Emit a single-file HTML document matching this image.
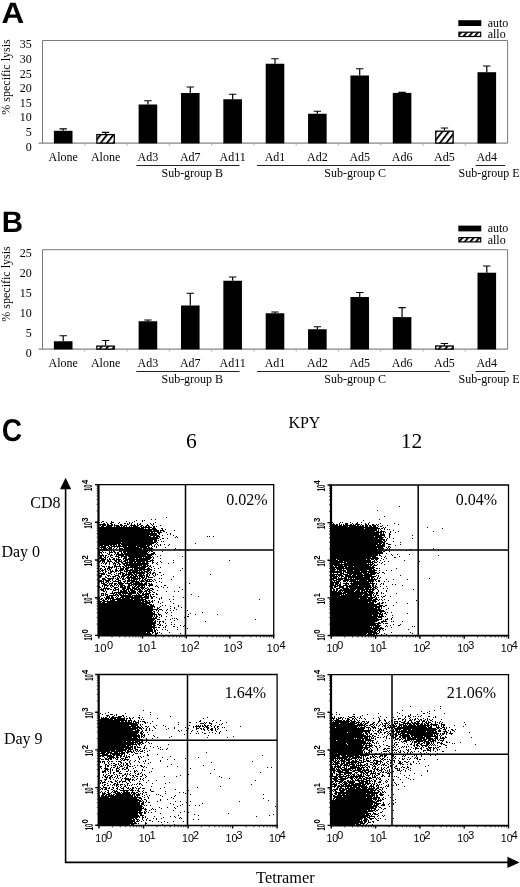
<!DOCTYPE html>
<html lang="en"><head><meta charset="utf-8"><title>Figure</title>
<style>html,body{margin:0;padding:0;background:#fff}svg{display:block}</style></head>
<body>
<svg width="520" height="887" viewBox="0 0 520 887">
<defs><pattern id="hat" width="6.4" height="40" patternUnits="userSpaceOnUse" patternTransform="skewX(-38)"><rect width="6.4" height="40" fill="#fff"/><rect x="0" width="2.3" height="40" fill="#000"/></pattern><pattern id="hat2" width="5.6" height="40" patternUnits="userSpaceOnUse" patternTransform="skewX(-40)"><rect width="5.6" height="40" fill="#fff"/><rect x="0" width="2.4" height="40" fill="#000"/></pattern><filter id="bl" x="0" y="0" width="520" height="887" filterUnits="userSpaceOnUse"><feGaussianBlur stdDeviation="0.38"/></filter></defs>
<rect width="520" height="887" fill="#fff"/>
<path d="M42.5 143.1V40.5H507.6V143.1" fill="none" stroke="#7a7a7a" stroke-width="1"/>
<path d="M38.5 143.1H507.6" fill="none" stroke="#666" stroke-width="1"/>
<path d="M84.78 143.1v2.5M127.06 143.1v2.5M169.35 143.1v2.5M211.63 143.1v2.5M253.91 143.1v2.5M296.19 143.1v2.5M338.47 143.1v2.5M380.75 143.1v2.5M423.04 143.1v2.5M465.32 143.1v2.5" stroke="#aaa" stroke-width="1" fill="none"/>
<path d="M63.2 130.8V128.8M59.5 128.8h7.4" stroke="#000" stroke-width="1.2" fill="none"/>
<rect x="53.9" y="130.8" width="18.6" height="12.6" fill="#000"/>
<path d="M105.56 134V132.3M101.86 132.3h7.4" stroke="#000" stroke-width="1.2" fill="none"/>
<rect x="96.86" y="134.6" width="17.4" height="8.5" fill="url(#hat)" stroke="#000" stroke-width="1.3"/>
<path d="M147.92 104.5V100.75M144.22 100.75h7.4" stroke="#000" stroke-width="1.2" fill="none"/>
<rect x="138.62" y="104.5" width="18.6" height="38.9" fill="#000"/>
<path d="M190.28 93V87M186.58 87h7.4" stroke="#000" stroke-width="1.2" fill="none"/>
<rect x="180.98" y="93" width="18.6" height="50.4" fill="#000"/>
<path d="M232.64 99.25V94.25M228.94 94.25h7.4" stroke="#000" stroke-width="1.2" fill="none"/>
<rect x="223.34" y="99.25" width="18.6" height="44.15" fill="#000"/>
<path d="M275 63.75V58.75M271.3 58.75h7.4" stroke="#000" stroke-width="1.2" fill="none"/>
<rect x="265.7" y="63.75" width="18.6" height="79.65" fill="#000"/>
<path d="M317.36 113.75V111.25M313.66 111.25h7.4" stroke="#000" stroke-width="1.2" fill="none"/>
<rect x="308.06" y="113.75" width="18.6" height="29.65" fill="#000"/>
<path d="M359.72 75.5V68.75M356.02 68.75h7.4" stroke="#000" stroke-width="1.2" fill="none"/>
<rect x="350.42" y="75.5" width="18.6" height="67.9" fill="#000"/>
<path d="M402.08 92.9V92.3M398.38 92.3h7.4" stroke="#000" stroke-width="1.2" fill="none"/>
<rect x="392.78" y="92.9" width="18.6" height="50.5" fill="#000"/>
<path d="M444.44 130.6V128M440.74 128h7.4" stroke="#000" stroke-width="1.2" fill="none"/>
<rect x="435.74" y="131.2" width="17.4" height="11.9" fill="url(#hat)" stroke="#000" stroke-width="1.3"/>
<path d="M486.8 72.2V66M483.1 66h7.4" stroke="#000" stroke-width="1.2" fill="none"/>
<rect x="477.5" y="72.2" width="18.6" height="71.2" fill="#000"/>
<text x="31.8" y="48.3" text-anchor="end" font-family='"Liberation Serif", serif' font-size="12">35</text>
<text x="31.8" y="63" text-anchor="end" font-family='"Liberation Serif", serif' font-size="12">30</text>
<text x="31.8" y="77.6" text-anchor="end" font-family='"Liberation Serif", serif' font-size="12">25</text>
<text x="31.8" y="92.2" text-anchor="end" font-family='"Liberation Serif", serif' font-size="12">20</text>
<text x="31.8" y="106.8" text-anchor="end" font-family='"Liberation Serif", serif' font-size="12">15</text>
<text x="31.8" y="121.4" text-anchor="end" font-family='"Liberation Serif", serif' font-size="12">10</text>
<text x="31.8" y="136" text-anchor="end" font-family='"Liberation Serif", serif' font-size="12">5</text>
<text x="31.8" y="150.8" text-anchor="end" font-family='"Liberation Serif", serif' font-size="12">0</text>
<text transform="translate(10.2 77) rotate(-90)" text-anchor="middle" font-family='"Liberation Serif", serif' font-size="12">% specific lysis</text>
<text x="63.2" y="160.5" text-anchor="middle" font-family='"Liberation Serif", serif' font-size="12">Alone</text>
<text x="105.56" y="160.5" text-anchor="middle" font-family='"Liberation Serif", serif' font-size="12">Alone</text>
<text x="147.92" y="160.5" text-anchor="middle" font-family='"Liberation Serif", serif' font-size="12">Ad3</text>
<text x="190.28" y="160.5" text-anchor="middle" font-family='"Liberation Serif", serif' font-size="12">Ad7</text>
<text x="232.64" y="160.5" text-anchor="middle" font-family='"Liberation Serif", serif' font-size="12">Ad11</text>
<text x="275" y="160.5" text-anchor="middle" font-family='"Liberation Serif", serif' font-size="12">Ad1</text>
<text x="317.36" y="160.5" text-anchor="middle" font-family='"Liberation Serif", serif' font-size="12">Ad2</text>
<text x="359.72" y="160.5" text-anchor="middle" font-family='"Liberation Serif", serif' font-size="12">Ad5</text>
<text x="402.08" y="160.5" text-anchor="middle" font-family='"Liberation Serif", serif' font-size="12">Ad6</text>
<text x="444.44" y="160.5" text-anchor="middle" font-family='"Liberation Serif", serif' font-size="12">Ad5</text>
<text x="486.8" y="160.5" text-anchor="middle" font-family='"Liberation Serif", serif' font-size="12">Ad4</text>
<path d="M136.3 165.5H239.5M257 165.5H450M475.6 165.5H505.2" stroke="#222" stroke-width="1" fill="none"/>
<text x="192.3" y="177.1" text-anchor="middle" font-family='"Liberation Serif", serif' font-size="12">Sub-group B</text>
<text x="355.2" y="177.1" text-anchor="middle" font-family='"Liberation Serif", serif' font-size="12">Sub-group C</text>
<text x="489" y="177.1" text-anchor="middle" font-family='"Liberation Serif", serif' font-size="12">Sub-group E</text>
<rect x="458.3" y="20.2" width="23" height="5.8" fill="#000"/>
<rect x="458.9" y="32.2" width="21.8" height="4.3" fill="url(#hat2)" stroke="#000" stroke-width="1.2"/>
<text x="487.7" y="26.8" font-family='"Liberation Serif", serif' font-size="12">auto</text>
<text x="487.7" y="38.4" font-family='"Liberation Serif", serif' font-size="12">allo</text>
<text transform="translate(1.57 23.15) scale(1.064 1.0)" text-rendering="geometricPrecision" font-family='"Liberation Sans", sans-serif' font-weight="700" font-size="29.5">A</text>
<path d="M42.5 349.1V249.7H507.6V349.1" fill="none" stroke="#7a7a7a" stroke-width="1"/>
<path d="M38.5 349.1H507.6" fill="none" stroke="#666" stroke-width="1"/>
<path d="M84.78 349.1v2.5M127.06 349.1v2.5M169.35 349.1v2.5M211.63 349.1v2.5M253.91 349.1v2.5M296.19 349.1v2.5M338.47 349.1v2.5M380.75 349.1v2.5M423.04 349.1v2.5M465.32 349.1v2.5" stroke="#aaa" stroke-width="1" fill="none"/>
<path d="M63.2 341.25V335.75M59.5 335.75h7.4" stroke="#000" stroke-width="1.2" fill="none"/>
<rect x="53.9" y="341.25" width="18.6" height="8.15" fill="#000"/>
<path d="M105.56 345.5V340.5M101.86 340.5h7.4" stroke="#000" stroke-width="1.2" fill="none"/>
<rect x="96.86" y="346.1" width="17.4" height="3" fill="url(#hat)" stroke="#000" stroke-width="1.3"/>
<path d="M147.92 321.25V320M144.22 320h7.4" stroke="#000" stroke-width="1.2" fill="none"/>
<rect x="138.62" y="321.25" width="18.6" height="28.15" fill="#000"/>
<path d="M190.28 305.5V293.25M186.58 293.25h7.4" stroke="#000" stroke-width="1.2" fill="none"/>
<rect x="180.98" y="305.5" width="18.6" height="43.9" fill="#000"/>
<path d="M232.64 280.75V277M228.94 277h7.4" stroke="#000" stroke-width="1.2" fill="none"/>
<rect x="223.34" y="280.75" width="18.6" height="68.65" fill="#000"/>
<path d="M275 313.25V312M271.3 312h7.4" stroke="#000" stroke-width="1.2" fill="none"/>
<rect x="265.7" y="313.25" width="18.6" height="36.15" fill="#000"/>
<path d="M317.36 329.25V326.75M313.66 326.75h7.4" stroke="#000" stroke-width="1.2" fill="none"/>
<rect x="308.06" y="329.25" width="18.6" height="20.15" fill="#000"/>
<path d="M359.72 297V292.5M356.02 292.5h7.4" stroke="#000" stroke-width="1.2" fill="none"/>
<rect x="350.42" y="297" width="18.6" height="52.4" fill="#000"/>
<path d="M402.08 317.1V307.7M398.38 307.7h7.4" stroke="#000" stroke-width="1.2" fill="none"/>
<rect x="392.78" y="317.1" width="18.6" height="32.3" fill="#000"/>
<path d="M444.44 345.4V343.5M440.74 343.5h7.4" stroke="#000" stroke-width="1.2" fill="none"/>
<rect x="435.74" y="346" width="17.4" height="3.1" fill="url(#hat)" stroke="#000" stroke-width="1.3"/>
<path d="M486.8 272.7V266M483.1 266h7.4" stroke="#000" stroke-width="1.2" fill="none"/>
<rect x="477.5" y="272.7" width="18.6" height="76.7" fill="#000"/>
<text x="31.8" y="256.9" text-anchor="end" font-family='"Liberation Serif", serif' font-size="12">25</text>
<text x="31.8" y="277" text-anchor="end" font-family='"Liberation Serif", serif' font-size="12">20</text>
<text x="31.8" y="297.1" text-anchor="end" font-family='"Liberation Serif", serif' font-size="12">15</text>
<text x="31.8" y="317.2" text-anchor="end" font-family='"Liberation Serif", serif' font-size="12">10</text>
<text x="31.8" y="337.3" text-anchor="end" font-family='"Liberation Serif", serif' font-size="12">5</text>
<text x="31.8" y="357" text-anchor="end" font-family='"Liberation Serif", serif' font-size="12">0</text>
<text transform="translate(10.2 284) rotate(-90)" text-anchor="middle" font-family='"Liberation Serif", serif' font-size="12">% specific lysis</text>
<text x="63.2" y="366.5" text-anchor="middle" font-family='"Liberation Serif", serif' font-size="12">Alone</text>
<text x="105.56" y="366.5" text-anchor="middle" font-family='"Liberation Serif", serif' font-size="12">Alone</text>
<text x="147.92" y="366.5" text-anchor="middle" font-family='"Liberation Serif", serif' font-size="12">Ad3</text>
<text x="190.28" y="366.5" text-anchor="middle" font-family='"Liberation Serif", serif' font-size="12">Ad7</text>
<text x="232.64" y="366.5" text-anchor="middle" font-family='"Liberation Serif", serif' font-size="12">Ad11</text>
<text x="275" y="366.5" text-anchor="middle" font-family='"Liberation Serif", serif' font-size="12">Ad1</text>
<text x="317.36" y="366.5" text-anchor="middle" font-family='"Liberation Serif", serif' font-size="12">Ad2</text>
<text x="359.72" y="366.5" text-anchor="middle" font-family='"Liberation Serif", serif' font-size="12">Ad5</text>
<text x="402.08" y="366.5" text-anchor="middle" font-family='"Liberation Serif", serif' font-size="12">Ad6</text>
<text x="444.44" y="366.5" text-anchor="middle" font-family='"Liberation Serif", serif' font-size="12">Ad5</text>
<text x="486.8" y="366.5" text-anchor="middle" font-family='"Liberation Serif", serif' font-size="12">Ad4</text>
<path d="M136.3 371.5H239.5M257 371.5H450M475.6 371.5H505.2" stroke="#222" stroke-width="1" fill="none"/>
<text x="192.3" y="383.1" text-anchor="middle" font-family='"Liberation Serif", serif' font-size="12">Sub-group B</text>
<text x="355.2" y="383.1" text-anchor="middle" font-family='"Liberation Serif", serif' font-size="12">Sub-group C</text>
<text x="489" y="383.1" text-anchor="middle" font-family='"Liberation Serif", serif' font-size="12">Sub-group E</text>
<rect x="458.3" y="225.6" width="23" height="5.8" fill="#000"/>
<rect x="458.9" y="237.6" width="21.8" height="4.3" fill="url(#hat2)" stroke="#000" stroke-width="1.2"/>
<text x="487.7" y="232.2" font-family='"Liberation Serif", serif' font-size="12">auto</text>
<text x="487.7" y="243.8" font-family='"Liberation Serif", serif' font-size="12">allo</text>
<text transform="translate(1.8 232) scale(1.0 1.0)" text-rendering="geometricPrecision" font-family='"Liberation Sans", sans-serif' font-weight="700" font-size="29.5">B</text>
<text transform="translate(1.86 440.8) scale(0.955 1.067)" text-rendering="geometricPrecision" font-family='"Liberation Sans", sans-serif' font-weight="700" font-size="29.5">C</text>
<text x="304.4" y="428.2" text-anchor="middle" font-family='"Liberation Serif", serif' font-size="16">KPY</text>
<text x="191.3" y="448.2" text-anchor="middle" font-family='"Liberation Serif", serif' font-size="21.5">6</text>
<text x="411.5" y="448.2" text-anchor="middle" font-family='"Liberation Serif", serif' font-size="21.5">12</text>
<text x="30.3" y="508.3" font-family='"Liberation Serif", serif' font-size="16">CD8</text>
<text x="1.4" y="557.4" font-family='"Liberation Serif", serif' font-size="16">Day 0</text>
<text x="3.9" y="744.1" font-family='"Liberation Serif", serif' font-size="16">Day 9</text>
<text x="256.1" y="883.3" font-family='"Liberation Serif", serif' font-size="16.3">Tetramer</text>
<path d="M65.6 487V862.4H509" fill="none" stroke="#000" stroke-width="1.6"/>
<path d="M65.6 477.8L71.2 489.2H60L65.6 477.8Z" fill="#000"/>
<path d="M519.6 862.4L507.4 856.8V868L519.6 862.4Z" fill="#000"/>
<g id="plot1">
<path transform="translate(0 0.5)" d="M166 517h1M151 519h1m3 0h1M136 520h1m5 0h1m1 0h1M102 521h2m7 0h1m14 0h1m7 0h1m7 0h1M99 522h1m1 0h1m4 0h1m4 0h3m5 0h1m9 0h1m2 0h1m22 0h1M103 523h2m2 0h1m2 0h2m6 0h1m5 0h2m1 0h1m1 0h1m1 0h1m5 0h1m2 0h1m9 0h1m2 0h1M99 524h7m1 0h2m2 0h2m1 0h1m5 0h2m5 0h2m2 0h1m2 0h1m2 0h1m1 0h2m6 0h1m3 0h1m1 0h1M100 525h1m1 0h4m1 0h6m1 0h5m1 0h3m1 0h3m3 0h6m1 0h2m2 0h2m3 0h3m3 0h1m7 0h1M101 526h3m2 0h6m2 0h1m1 0h4m1 0h1m1 0h2m1 0h1m2 0h1m1 0h1m1 0h5m2 0h2m1 0h1m1 0h2m1 0h2m3 0h2m1 0h1M99 527h41m1 0h11m1 0h2M99 528h45m1 0h1m2 0h2m2 0h4m5 0h2M99 529h58m5 0h1m2 0h1M99 530h53m1 0h6m1 0h4m10 0h1M99 531h60m1 0h1m2 0h2M99 532h51m1 0h2m1 0h1m2 0h5m4 0h1M99 533h58m1 0h2m10 0h1M99 534h58m2 0h1m7 0h1m2 0h1M99 535h50m1 0h9m3 0h1m10 0h1M99 536h52m2 0h2m1 0h4m16 0h1m30 0h1m1 0h1m3 0h1M99 537h59m1 0h1m15 0h1m1 0h1M99 538h60m3 0h2m3 0h1M99 539h58m3 0h1M99 540h54m1 0h3m1 0h1M99 541h54m1 0h3m4 0h1m1 0h1M99 542h22m1 0h34m1 0h1M99 543h55m2 0h1m38 0h1M99 544h18m1 0h2m1 0h31m3 0h1m1 0h1m2 0h1m3 0h1m4 0h1M99 545h4m1 0h5m1 0h2m1 0h2m1 0h1m1 0h3m1 0h24m1 0h3m1 0h1m2 0h1m3 0h1m1 0h1m7 0h1M99 546h1m1 0h5m2 0h2m1 0h16m1 0h8m1 0h12m3 0h1m1 0h1m1 0h1M100 547h6m1 0h1m1 0h3m2 0h1m2 0h1m1 0h1m3 0h16m1 0h7m1 0h2m1 0h1m4 0h1m8 0h1M101 548h1m1 0h4m1 0h4m1 0h1m2 0h1m2 0h4m1 0h18m1 0h10m22 0h1M100 549h1m1 0h6m1 0h1m1 0h1m3 0h1m3 0h2m1 0h20m1 0h3m1 0h1m1 0h3m1 0h1m20 0h1m5 0h1M100 550h3m1 0h5m2 0h1m1 0h1m5 0h1m1 0h2m1 0h28m36 0h1M99 551h1m2 0h1m6 0h1m1 0h1m1 0h2m4 0h3m1 0h25m1 0h1m1 0h2m9 0h1M99 552h3m1 0h1m1 0h1m3 0h4m1 0h2m1 0h2m2 0h1m1 0h3m1 0h20m1 0h1m4 0h2M99 553h1m1 0h1m5 0h1m1 0h1m5 0h1m1 0h2m2 0h2m1 0h24m3 0h4M99 554h1m2 0h1m5 0h2m1 0h1m2 0h1m1 0h38m1 0h1M99 555h5m1 0h2m3 0h3m3 0h1m1 0h6m1 0h21m1 0h5m8 0h1M100 556h2m1 0h1m1 0h1m2 0h1m1 0h1m4 0h4m2 0h6m1 0h23m1 0h1m4 0h1m24 0h1M99 557h3m2 0h2m1 0h1m3 0h2m5 0h2m1 0h1m2 0h3m2 0h13m1 0h1m1 0h7m1 0h1M99 558h5m1 0h1m3 0h1m3 0h2m1 0h1m1 0h1m4 0h4m1 0h7m1 0h2m1 0h12m2 0h1m6 0h1M101 559h5m1 0h1m1 0h2m1 0h3m1 0h5m2 0h1m1 0h25m2 0h1M100 560h5m2 0h2m1 0h1m3 0h3m1 0h2m1 0h1m2 0h4m1 0h6m1 0h12m2 0h4m19 0h1m55 0h1M99 561h2m1 0h3m2 0h5m3 0h2m1 0h4m1 0h3m1 0h1m1 0h16m1 0h5m1 0h1m7 0h1M99 562h1m2 0h1m1 0h1m1 0h1m2 0h1m2 0h1m1 0h1m1 0h3m2 0h2m2 0h8m1 0h2m1 0h4m1 0h3m1 0h2m4 0h2m3 0h1m3 0h1m11 0h1M101 563h1m1 0h1m1 0h2m2 0h1m3 0h3m2 0h2m2 0h6m1 0h20m3 0h1m3 0h1m11 0h1M105 564h1m3 0h1m3 0h1m1 0h1m1 0h1m1 0h2m2 0h2m1 0h22m9 0h1M101 565h1m12 0h2m3 0h1m4 0h18m1 0h3m1 0h2m1 0h1M99 566h1m2 0h3m1 0h1m1 0h2m2 0h1m1 0h7m1 0h2m1 0h2m1 0h1m1 0h8m1 0h1m1 0h7m1 0h2m2 0h1M104 567h1m3 0h5m1 0h1m1 0h1m3 0h1m2 0h2m1 0h20m2 0h1m2 0h1m8 0h1M100 568h2m3 0h1m1 0h3m1 0h1m4 0h1m1 0h1m1 0h4m1 0h4m3 0h1m1 0h11m2 0h3m4 0h1m3 0h1m23 0h1M100 569h1m1 0h1m1 0h2m1 0h1m1 0h2m4 0h2m3 0h4m1 0h3m2 0h3m1 0h4m1 0h13M99 570h1m1 0h3m1 0h1m2 0h1m1 0h1m1 0h1m2 0h3m1 0h4m1 0h1m1 0h16m1 0h2m2 0h3m1 0h1m2 0h1m25 0h1M100 571h1m1 0h1m2 0h2m3 0h4m1 0h2m1 0h1m1 0h1m3 0h4m1 0h2m1 0h6m1 0h1m1 0h2m1 0h5m1 0h1M103 572h1m1 0h1m2 0h1m1 0h2m2 0h1m5 0h3m3 0h1m1 0h17m1 0h2m1 0h2m2 0h2m4 0h2M99 573h6m3 0h3m5 0h1m1 0h3m1 0h3m1 0h1m1 0h4m1 0h2m1 0h9m2 0h2m1 0h1m1 0h2m1 0h1M101 574h4m1 0h1m4 0h1m2 0h1m3 0h1m1 0h1m1 0h2m1 0h8m1 0h3m2 0h3m1 0h1m2 0h2m1 0h1m2 0h1m2 0h1m1 0h1m5 0h1m46 0h1M99 575h3m5 0h3m5 0h4m3 0h5m1 0h2m1 0h3m1 0h2m1 0h7m1 0h2m1 0h1m3 0h1m1 0h1m5 0h1M99 576h3m3 0h1m2 0h1m1 0h1m1 0h4m2 0h2m1 0h4m2 0h2m1 0h2m1 0h5m1 0h4m1 0h1m1 0h3m5 0h1m18 0h1M99 577h2m4 0h2m6 0h1m3 0h1m1 0h1m1 0h1m1 0h1m2 0h10m1 0h1m1 0h1m1 0h4m1 0h1m1 0h5M102 578h3m2 0h7m1 0h1m1 0h2m1 0h1m1 0h2m1 0h1m1 0h3m1 0h10m1 0h2m1 0h2m12 0h1m1 0h1M102 579h4m2 0h3m1 0h1m3 0h3m3 0h3m3 0h2m1 0h1m1 0h5m1 0h1m2 0h1m1 0h2m1 0h5m2 0h1m16 0h1M99 580h3m1 0h1m1 0h5m2 0h1m2 0h1m2 0h3m4 0h1m1 0h8m1 0h1m2 0h1m1 0h3m1 0h3m1 0h1m2 0h1m2 0h1M99 581h5m2 0h3m1 0h1m2 0h6m1 0h1m2 0h3m1 0h3m1 0h8m1 0h5m1 0h6m1 0h1m5 0h1M99 582h1m1 0h1m1 0h1m1 0h2m1 0h1m3 0h1m5 0h4m2 0h1m2 0h1m2 0h4m1 0h5m1 0h1m3 0h2m9 0h1m4 0h1M101 583h4m2 0h1m1 0h4m1 0h3m1 0h6m1 0h7m1 0h10m1 0h3m1 0h2m1 0h1m37 0h1M103 584h4m2 0h1m1 0h1m2 0h2m1 0h1m1 0h4m5 0h2m1 0h16m2 0h4M102 585h1m1 0h5m1 0h3m1 0h1m1 0h1m1 0h1m1 0h5m3 0h4m1 0h1m1 0h2m1 0h7m1 0h1m1 0h5m3 0h1m7 0h2M99 586h1m2 0h1m1 0h1m2 0h1m2 0h1m1 0h2m4 0h1m1 0h3m1 0h2m1 0h3m2 0h1m1 0h2m1 0h3m1 0h2m1 0h1m4 0h1m5 0h1m1 0h1m3 0h1M99 587h2m3 0h1m1 0h1m4 0h1m2 0h4m2 0h6m1 0h3m2 0h3m1 0h3m1 0h5m2 0h1m10 0h1m4 0h1m3 0h1m11 0h1M101 588h1m1 0h7m4 0h2m2 0h1m3 0h4m1 0h4m1 0h5m1 0h2m1 0h3m1 0h2m1 0h1m1 0h3M100 589h4m1 0h1m1 0h2m1 0h2m1 0h1m1 0h4m3 0h3m1 0h3m1 0h3m1 0h7m1 0h1m1 0h1m2 0h3m2 0h2m28 0h1M101 590h3m1 0h1m7 0h3m2 0h1m1 0h2m1 0h4m1 0h1m1 0h5m2 0h1m1 0h3m3 0h3m1 0h3m5 0h1M103 591h2m1 0h1m5 0h1m5 0h1m1 0h7m1 0h2m1 0h5m2 0h5m1 0h3m1 0h2m2 0h1m13 0h1m7 0h1m3 0h1M106 592h1m5 0h1m1 0h14m1 0h7m1 0h1m1 0h3m1 0h1m2 0h1m2 0h2m2 0h2M101 593h3m1 0h1m4 0h5m1 0h1m1 0h3m1 0h14m1 0h2m1 0h1m1 0h2m1 0h5m6 0h1M101 594h1m1 0h1m1 0h3m5 0h1m1 0h3m1 0h3m1 0h1m1 0h1m2 0h4m4 0h1m1 0h2m2 0h7m1 0h1m1 0h2m2 0h2m33 0h1M101 595h3m1 0h1m1 0h1m1 0h7m1 0h2m1 0h11m1 0h12m1 0h2m1 0h1m1 0h1M100 596h1m5 0h4m1 0h2m3 0h1m1 0h1m2 0h12m1 0h8m2 0h5m1 0h2m1 0h2m18 0h1m24 0h1M99 597h1m4 0h1m1 0h4m1 0h3m1 0h1m1 0h1m2 0h4m1 0h24m2 0h2m3 0h1m4 0h1m21 0h1M99 598h1m1 0h2m2 0h9m2 0h5m1 0h8m1 0h9m1 0h2m2 0h4m2 0h2m6 0h1m1 0h1M100 599h2m1 0h1m1 0h2m1 0h1m1 0h1m1 0h21m1 0h12m13 0h1m9 0h1m3 0h1m85 0h1M99 600h1m2 0h3m2 0h1m2 0h5m2 0h27m1 0h2m1 0h2m2 0h1m1 0h1M99 601h3m1 0h38m1 0h6m1 0h1m1 0h2m5 0h1m11 0h1M99 602h2m1 0h3m2 0h37m1 0h6m1 0h1m5 0h1m3 0h1M99 603h51m10 0h1m12 0h1M99 604h48m2 0h3m1 0h1M99 605h50m1 0h4m8 0h1m2 0h1m12 0h1M99 606h56m5 0h1m9 0h1m7 0h1M99 607h54m1 0h1m2 0h1m1 0h1m14 0h1m6 0h1M99 608h54m4 0h2m11 0h1m3 0h1M99 609h59m1 0h3m5 0h1m8 0h1M99 610h54m3 0h1m1 0h1m3 0h1m3 0h1m3 0h1m2 0h1m13 0h1M99 611h53m1 0h2m3 0h1M99 612h54m1 0h1m2 0h1m7 0h1m1 0h1m3 0h1m13 0h1m16 0h1M99 613h56m3 0h1m7 0h1m23 0h1M99 614h58m1 0h3m27 0h1m6 0h1m21 0h1M99 615h54m1 0h1m1 0h1m2 0h1m1 0h1m9 0h1M99 616h54m1 0h1m1 0h2m3 0h1m4 0h1m20 0h2M99 617h53m1 0h1m1 0h2m2 0h1m24 0h1M99 618h58m15 0h1m1 0h1m1 0h1M99 619h56m2 0h3m5 0h1m4 0h1m6 0h1m77 0h1M99 620h55m1 0h1m18 0h1M99 621h54m1 0h2m1 0h1m1 0h2m1 0h2m41 0h1M99 622h57m3 0h1m3 0h1m7 0h1M99 623h57m3 0h1m5 0h1M99 624h56m2 0h2m1 0h1m10 0h1m2 0h1M99 625h53m1 0h3m3 0h2m1 0h1m3 0h1m13 0h1m3 0h1M99 626h56m10 0h1m7 0h2m8 0h1M99 627h58m1 0h2m3 0h1m1 0h1m11 0h1M99 628h53m1 0h2m32 0h1M99 629h54m1 0h1m1 0h1m5 0h1m2 0h1m11 0h1M99 630h54m1 0h2m1 0h1m9 0h1M99 631h54m1 0h2M99 632h47m1 0h3m2 0h2m1 0h1m1 0h1m1 0h1m9 0h1M99 633h52m1 0h1m2 0h3m3 0h1m18 0h1M99 634h53m3 0h2" stroke="#000" stroke-width="1" fill="none" shape-rendering="crispEdges" filter="url(#bl)"/>
<path d="M98.8 484.6H273.7V635.4" fill="none" stroke="#000" stroke-width="1.3"/>
<path d="M98.5 484V635.4" fill="none" stroke="#000" stroke-width="2.2"/>
<path d="M97.4 635.6H274.3" fill="none" stroke="#000" stroke-width="1.7"/>
<path d="M185.5 484.6V635.4M98.8 550H273.7" fill="none" stroke="#000" stroke-width="1.5"/>
<path d="M98.8 635.4v3.2M98.8 635.4h-3.8M142.52 635.4v3.2M98.8 597.7h-3.8M186.25 635.4v3.2M98.8 560h-3.8M229.97 635.4v3.2M98.8 522.3h-3.8M273.7 635.4v3.2M98.8 484.6h-3.8" stroke="#000" stroke-width="1.4" fill="none"/>
<path d="M111.96 635.4v2M98.8 624.05h-2.2M119.66 635.4v2M98.8 617.41h-2.2M125.13 635.4v2M98.8 612.7h-2.2M129.36 635.4v2M98.8 609.05h-2.2M132.82 635.4v2M98.8 606.06h-2.2M135.75 635.4v2M98.8 603.54h-2.2M138.29 635.4v2M98.8 601.35h-2.2M140.52 635.4v2M98.8 599.43h-2.2M155.69 635.4v2M98.8 586.35h-2.2M163.39 635.4v2M98.8 579.71h-2.2M168.85 635.4v2M98.8 575h-2.2M173.09 635.4v2M98.8 571.35h-2.2M176.55 635.4v2M98.8 568.36h-2.2M179.48 635.4v2M98.8 565.84h-2.2M182.01 635.4v2M98.8 563.65h-2.2M184.25 635.4v2M98.8 561.73h-2.2M199.41 635.4v2M98.8 548.65h-2.2M207.11 635.4v2M98.8 542.01h-2.2M212.58 635.4v2M98.8 537.3h-2.2M216.81 635.4v2M98.8 533.65h-2.2M220.27 635.4v2M98.8 530.66h-2.2M223.2 635.4v2M98.8 528.14h-2.2M225.74 635.4v2M98.8 525.95h-2.2M227.97 635.4v2M98.8 524.03h-2.2M243.14 635.4v2M98.8 510.95h-2.2M250.84 635.4v2M98.8 504.31h-2.2M256.3 635.4v2M98.8 499.6h-2.2M260.54 635.4v2M98.8 495.95h-2.2M264 635.4v2M98.8 492.96h-2.2M266.93 635.4v2M98.8 490.44h-2.2M269.46 635.4v2M98.8 488.25h-2.2M271.7 635.4v2M98.8 486.33h-2.2" stroke="#000" stroke-width="0.8" fill="none"/>
<text x="94" y="652.4" font-family='"Liberation Sans", sans-serif' font-size="11.6" textLength="12.6" lengthAdjust="spacingAndGlyphs">10</text>
<text x="107" y="649.2" font-family='"Liberation Sans", sans-serif' font-size="11" >0</text>
<text x="137.4" y="652.4" font-family='"Liberation Sans", sans-serif' font-size="11.6" textLength="12.6" lengthAdjust="spacingAndGlyphs">10</text>
<text x="150.4" y="649.2" font-family='"Liberation Sans", sans-serif' font-size="11" >1</text>
<text x="180.6" y="652.4" font-family='"Liberation Sans", sans-serif' font-size="11.6" textLength="12.6" lengthAdjust="spacingAndGlyphs">10</text>
<text x="193.6" y="649.2" font-family='"Liberation Sans", sans-serif' font-size="11" >2</text>
<text x="223.6" y="652.4" font-family='"Liberation Sans", sans-serif' font-size="11.6" textLength="12.6" lengthAdjust="spacingAndGlyphs">10</text>
<text x="236.6" y="649.2" font-family='"Liberation Sans", sans-serif' font-size="11" >3</text>
<text x="266.6" y="652.4" font-family='"Liberation Sans", sans-serif' font-size="11.6" textLength="12.6" lengthAdjust="spacingAndGlyphs">10</text>
<text x="279.6" y="649.2" font-family='"Liberation Sans", sans-serif' font-size="11" >4</text>
<g transform="translate(92.4 640.4) rotate(-90)"><text x="0" y="0" transform="scale(0.56 1)" font-family='"Liberation Sans", sans-serif' font-weight="700" font-size="10.4">10</text><text x="7.6" y="-4.6" transform="scale(0.9 1)" font-family='"Liberation Sans", sans-serif' font-weight="700" font-size="8.6">0</text></g>
<g transform="translate(92.4 604) rotate(-90)"><text x="0" y="0" transform="scale(0.56 1)" font-family='"Liberation Sans", sans-serif' font-weight="700" font-size="10.4">10</text><text x="7.6" y="-4.6" transform="scale(0.9 1)" font-family='"Liberation Sans", sans-serif' font-weight="700" font-size="8.6">1</text></g>
<g transform="translate(92.4 566.3) rotate(-90)"><text x="0" y="0" transform="scale(0.56 1)" font-family='"Liberation Sans", sans-serif' font-weight="700" font-size="10.4">10</text><text x="7.6" y="-4.6" transform="scale(0.9 1)" font-family='"Liberation Sans", sans-serif' font-weight="700" font-size="8.6">2</text></g>
<g transform="translate(92.4 528.6) rotate(-90)"><text x="0" y="0" transform="scale(0.56 1)" font-family='"Liberation Sans", sans-serif' font-weight="700" font-size="10.4">10</text><text x="7.6" y="-4.6" transform="scale(0.9 1)" font-family='"Liberation Sans", sans-serif' font-weight="700" font-size="8.6">3</text></g>
<g transform="translate(92.4 490.9) rotate(-90)"><text x="0" y="0" transform="scale(0.56 1)" font-family='"Liberation Sans", sans-serif' font-weight="700" font-size="10.4">10</text><text x="7.6" y="-4.6" transform="scale(0.9 1)" font-family='"Liberation Sans", sans-serif' font-weight="700" font-size="8.6">4</text></g>
<text x="267.6" y="504.6" text-anchor="end" font-family='"Liberation Serif", serif' font-size="16">0.02%</text>
</g>
<g id="plot2">
<path transform="translate(0 0.5)" d="M399 506h1M377 510h1M384 516h1M379 519h1M363 520h1M332 522h1m7 0h1m1 0h1m7 0h1m6 0h1m3 0h1m7 0h1M333 523h1m5 0h1m5 0h3m4 0h1m3 0h2m7 0h1m2 0h1m11 0h1m13 0h1M332 524h3m1 0h2m1 0h1m1 0h1m1 0h1m1 0h3m2 0h2m1 0h1m1 0h5m1 0h1m3 0h2m1 0h1m3 0h2m2 0h1m1 0h1m19 0h1M332 525h6m1 0h3m1 0h13m1 0h2m1 0h1m1 0h2m1 0h3m1 0h2m1 0h4m1 0h1m4 0h1m4 0h1M332 526h16m1 0h15m1 0h3m1 0h3m1 0h3m2 0h1m1 0h2M332 527h46m5 0h1m1 0h1m41 0h1M332 528h32m1 0h15m1 0h2m1 0h1m57 0h1M332 529h45m1 0h1m1 0h1m3 0h1m2 0h1m1 0h1M332 530h45m1 0h1m2 0h1m11 0h1M332 531h43m1 0h3m1 0h5m5 0h1m7 0h1m34 0h1M332 532h50m1 0h1m1 0h1m4 0h1m4 0h1M332 533h47m1 0h2m1 0h1m5 0h1M332 534h47m1 0h5m4 0h2M332 535h53m4 0h1m22 0h1M332 536h42m1 0h7m2 0h1m4 0h1M332 537h52m1 0h1m3 0h1M332 538h46m1 0h4m4 0h1m5 0h1m18 0h1M332 539h53m1 0h1M332 540h50m1 0h2m1 0h1M332 541h51m1 0h2m7 0h1M332 542h53m15 0h1M332 543h46m1 0h3m1 0h2m1 0h2M332 544h49m1 0h3m3 0h3m9 0h1M332 545h44m1 0h8m10 0h1M332 546h53m3 0h2M332 547h51m3 0h1m1 0h1m1 0h1M332 548h45m1 0h6m3 0h1m1 0h1m43 0h1M332 549h49m1 0h1m3 0h1m2 0h1m20 0h1M332 550h46m1 0h4m2 0h2m19 0h1m4 0h1M332 551h50m1 0h2m4 0h1M332 552h51M332 553h51m3 0h1M332 554h46m1 0h1m11 0h1m5 0h1m11 0h1M332 555h46m1 0h2m11 0h1m45 0h1M332 556h44m5 0h1m3 0h1m13 0h1M332 557h39m1 0h6m6 0h1m9 0h2M332 558h47m2 0h1m4 0h1M332 559h4m1 0h29m1 0h3m1 0h3m1 0h3m5 0h1M332 560h6m1 0h32m3 0h1m1 0h1m3 0h1m23 0h1M332 561h11m1 0h27m1 0h3m2 0h1m6 0h1m3 0h1m30 0h1M332 562h14m1 0h26m1 0h3m2 0h1m2 0h1M332 563h8m1 0h1m2 0h23m1 0h1m1 0h1m1 0h2m7 0h1M332 564h41m1 0h1m2 0h1m6 0h1M332 565h1m1 0h9m1 0h25m1 0h2m1 0h4M332 566h2m1 0h2m1 0h9m1 0h5m1 0h17m1 0h2M332 567h12m1 0h30M332 568h3m1 0h38m2 0h2m1 0h1m16 0h1M332 569h4m1 0h5m1 0h1m2 0h26m1 0h2M332 570h3m2 0h1m1 0h7m1 0h6m1 0h13m2 0h8m2 0h1m6 0h1m4 0h1M332 571h10m1 0h3m1 0h13m1 0h14M332 572h10m1 0h1m1 0h22m1 0h9m2 0h1m2 0h2M333 573h1m3 0h1m2 0h4m3 0h15m1 0h6m1 0h6m1 0h2m5 0h1M332 574h10m1 0h5m1 0h3m1 0h10m1 0h11M332 575h3m1 0h1m1 0h5m2 0h6m1 0h4m1 0h15m4 0h1m1 0h1m21 0h1M332 576h6m1 0h1m1 0h3m1 0h18m1 0h12m2 0h1M333 577h4m1 0h1m2 0h1m2 0h3m1 0h22m1 0h3m3 0h1m2 0h1M332 578h5m1 0h9m1 0h1m1 0h2m1 0h1m1 0h15m1 0h2m1 0h1m2 0h1m1 0h1m49 0h1M332 579h2m2 0h7m1 0h33m9 0h1m6 0h1m13 0h1M333 580h4m1 0h3m2 0h6m1 0h6m1 0h1m1 0h8m1 0h6m1 0h1m2 0h2M332 581h1m1 0h1m1 0h4m3 0h3m1 0h1m1 0h25m2 0h1m1 0h2m4 0h1m3 0h1M332 582h7m1 0h1m5 0h1m4 0h1m1 0h16m1 0h1m1 0h1M332 583h2m1 0h4m1 0h1m2 0h6m1 0h25m1 0h1m4 0h1m1 0h1M332 584h2m1 0h3m1 0h2m4 0h2m1 0h1m2 0h19m2 0h2m2 0h1m3 0h1m2 0h1m8 0h1m2 0h1M332 585h4m1 0h4m2 0h5m1 0h9m1 0h12m1 0h2m1 0h1m26 0h1M332 586h1m1 0h4m1 0h5m2 0h25m1 0h2m1 0h2m3 0h1m5 0h1M332 587h1m1 0h2m3 0h5m2 0h2m1 0h23m1 0h3m1 0h1M332 588h2m2 0h4m2 0h7m1 0h14m1 0h4m1 0h1m1 0h2m1 0h2m6 0h1m3 0h1M333 589h2m1 0h2m2 0h2m1 0h13m1 0h18m2 0h1m35 0h1M333 590h2m1 0h2m1 0h16m1 0h4m1 0h4m1 0h2m1 0h2m1 0h2m4 0h1m7 0h1M332 591h5m1 0h3m1 0h1m1 0h10m1 0h5m1 0h2m1 0h9m5 0h1m7 0h1M332 592h10m1 0h24m1 0h6m2 0h2m3 0h1M332 593h14m1 0h21m1 0h4m1 0h1m1 0h2m3 0h1m1 0h1m12 0h1M332 594h10m1 0h1m1 0h18m1 0h8m1 0h1m2 0h1M332 595h8m1 0h21m1 0h9m1 0h1m1 0h1m1 0h2m6 0h1M332 596h36m2 0h2m2 0h2m5 0h1m1 0h2m5 0h1M332 597h43m1 0h1m1 0h1m3 0h1M332 598h27m1 0h7m1 0h5m2 0h2M332 599h40m1 0h5m1 0h1m1 0h1m2 0h1M332 600h44m2 0h1m3 0h1m5 0h1m27 0h1M332 601h39m1 0h5M332 602h36m1 0h5m1 0h1m3 0h1m2 0h2m1 0h1m10 0h1M332 603h42m3 0h3m1 0h2m24 0h1M332 604h48M332 605h45m2 0h4m2 0h2m6 0h1M332 606h50m1 0h2M332 607h42m1 0h5m1 0h1M332 608h45m1 0h2m1 0h1m6 0h1M332 609h49m5 0h1M332 610h52M332 611h46m1 0h6M332 612h47m1 0h2m3 0h1m1 0h1m3 0h1M332 613h49m1 0h1m1 0h2m21 0h1M332 614h46m1 0h4m3 0h1M332 615h40m1 0h5m1 0h1m1 0h2m9 0h1M332 616h52m1 0h1M332 617h45m1 0h4m10 0h1M332 618h46m3 0h1m5 0h1m3 0h1M332 619h50m3 0h3m3 0h1M332 620h47m4 0h1m1 0h1M332 621h45m4 0h6m4 0h1m1 0h1m8 0h1M332 622h43m3 0h2m1 0h2M332 623h49m2 0h1m1 0h3M332 624h44m1 0h2m14 0h1m6 0h1M332 625h49m5 0h1m3 0h1m7 0h2M332 626h38m1 0h1m1 0h1m1 0h5m5 0h1m1 0h1m24 0h1m1 0h1M332 627h40m1 0h6m1 0h2m9 0h1M332 628h52M332 629h39m1 0h6m1 0h2m1 0h1m2 0h1m22 0h1M332 630h41m1 0h3m1 0h2m3 0h1M332 631h44m1 0h1m1 0h1M332 632h45m2 0h1m11 0h1m18 0h1M332 633h35m1 0h4m1 0h6m5 0h1m27 0h1M332 634h34m1 0h8m1 0h1m4 0h1m4 0h1" stroke="#000" stroke-width="1" fill="none" shape-rendering="crispEdges" filter="url(#bl)"/>
<path d="M331.3 485H508.5V635.5" fill="none" stroke="#000" stroke-width="1.3"/>
<path d="M331 484.4V635.5" fill="none" stroke="#000" stroke-width="2.2"/>
<path d="M329.9 635.7H509.1" fill="none" stroke="#000" stroke-width="1.7"/>
<path d="M418.2 485V635.5M331.3 550H508.5" fill="none" stroke="#000" stroke-width="1.5"/>
<path d="M331.3 635.5v3.2M331.3 635.5h-3.8M375.6 635.5v3.2M331.3 597.88h-3.8M419.9 635.5v3.2M331.3 560.25h-3.8M464.2 635.5v3.2M331.3 522.62h-3.8M508.5 635.5v3.2M331.3 485h-3.8" stroke="#000" stroke-width="1.4" fill="none"/>
<path d="M344.64 635.5v2M331.3 624.17h-2.2M352.44 635.5v2M331.3 617.55h-2.2M357.97 635.5v2M331.3 612.85h-2.2M362.26 635.5v2M331.3 609.2h-2.2M365.77 635.5v2M331.3 606.22h-2.2M368.74 635.5v2M331.3 603.7h-2.2M371.31 635.5v2M331.3 601.52h-2.2M373.57 635.5v2M331.3 599.6h-2.2M388.94 635.5v2M331.3 586.55h-2.2M396.74 635.5v2M331.3 579.92h-2.2M402.27 635.5v2M331.3 575.22h-2.2M406.56 635.5v2M331.3 571.58h-2.2M410.07 635.5v2M331.3 568.6h-2.2M413.04 635.5v2M331.3 566.08h-2.2M415.61 635.5v2M331.3 563.9h-2.2M417.87 635.5v2M331.3 561.97h-2.2M433.24 635.5v2M331.3 548.92h-2.2M441.04 635.5v2M331.3 542.3h-2.2M446.57 635.5v2M331.3 537.6h-2.2M450.86 635.5v2M331.3 533.95h-2.2M454.37 635.5v2M331.3 530.97h-2.2M457.34 635.5v2M331.3 528.45h-2.2M459.91 635.5v2M331.3 526.27h-2.2M462.17 635.5v2M331.3 524.35h-2.2M477.54 635.5v2M331.3 511.3h-2.2M485.34 635.5v2M331.3 504.67h-2.2M490.87 635.5v2M331.3 499.97h-2.2M495.16 635.5v2M331.3 496.33h-2.2M498.67 635.5v2M331.3 493.35h-2.2M501.64 635.5v2M331.3 490.83h-2.2M504.21 635.5v2M331.3 488.65h-2.2M506.47 635.5v2M331.3 486.72h-2.2" stroke="#000" stroke-width="0.8" fill="none"/>
<text x="326.4" y="652.1" font-family='"Liberation Sans", sans-serif' font-size="11.8" textLength="11.8" lengthAdjust="spacingAndGlyphs">10</text>
<text x="337.1" y="648.8" font-family='"Liberation Sans", sans-serif' font-size="11.3">0</text>
<text x="370" y="652.1" font-family='"Liberation Sans", sans-serif' font-size="11.8" textLength="11.8" lengthAdjust="spacingAndGlyphs">10</text>
<text x="380.7" y="648.8" font-family='"Liberation Sans", sans-serif' font-size="11.3">1</text>
<text x="413.6" y="652.1" font-family='"Liberation Sans", sans-serif' font-size="11.8" textLength="11.8" lengthAdjust="spacingAndGlyphs">10</text>
<text x="424.3" y="648.8" font-family='"Liberation Sans", sans-serif' font-size="11.3">2</text>
<text x="457.2" y="652.1" font-family='"Liberation Sans", sans-serif' font-size="11.8" textLength="11.8" lengthAdjust="spacingAndGlyphs">10</text>
<text x="467.9" y="648.8" font-family='"Liberation Sans", sans-serif' font-size="11.3">3</text>
<text x="500.8" y="652.1" font-family='"Liberation Sans", sans-serif' font-size="11.8" textLength="11.8" lengthAdjust="spacingAndGlyphs">10</text>
<text x="511.5" y="648.8" font-family='"Liberation Sans", sans-serif' font-size="11.3">4</text>
<g transform="translate(324.9 640.5) rotate(-90)"><text x="0" y="0" transform="scale(0.56 1)" font-family='"Liberation Sans", sans-serif' font-weight="700" font-size="10.4">10</text><text x="7.6" y="-4.6" transform="scale(0.9 1)" font-family='"Liberation Sans", sans-serif' font-weight="700" font-size="8.6">0</text></g>
<g transform="translate(324.9 604.17) rotate(-90)"><text x="0" y="0" transform="scale(0.56 1)" font-family='"Liberation Sans", sans-serif' font-weight="700" font-size="10.4">10</text><text x="7.6" y="-4.6" transform="scale(0.9 1)" font-family='"Liberation Sans", sans-serif' font-weight="700" font-size="8.6">1</text></g>
<g transform="translate(324.9 566.55) rotate(-90)"><text x="0" y="0" transform="scale(0.56 1)" font-family='"Liberation Sans", sans-serif' font-weight="700" font-size="10.4">10</text><text x="7.6" y="-4.6" transform="scale(0.9 1)" font-family='"Liberation Sans", sans-serif' font-weight="700" font-size="8.6">2</text></g>
<g transform="translate(324.9 528.92) rotate(-90)"><text x="0" y="0" transform="scale(0.56 1)" font-family='"Liberation Sans", sans-serif' font-weight="700" font-size="10.4">10</text><text x="7.6" y="-4.6" transform="scale(0.9 1)" font-family='"Liberation Sans", sans-serif' font-weight="700" font-size="8.6">3</text></g>
<g transform="translate(324.9 491.3) rotate(-90)"><text x="0" y="0" transform="scale(0.56 1)" font-family='"Liberation Sans", sans-serif' font-weight="700" font-size="10.4">10</text><text x="7.6" y="-4.6" transform="scale(0.9 1)" font-family='"Liberation Sans", sans-serif' font-weight="700" font-size="8.6">4</text></g>
<text x="497.2" y="504.6" text-anchor="end" font-family='"Liberation Serif", serif' font-size="16">0.04%</text>
</g>
<g id="plot3">
<path transform="translate(0 0.5)" d="M143 710h1M108 712h1m41 0h1M100 713h1m4 0h1m19 0h1M102 714h1m7 0h3m3 0h1m33 0h1M106 715h3m5 0h1m1 0h1m5 0h2m15 0h1M99 716h1m7 0h1m1 0h1m2 0h2m4 0h4m1 0h1m2 0h1m43 0h1M99 717h1m1 0h1m1 0h1m1 0h2m2 0h1m1 0h10m3 0h1m4 0h1m3 0h1m4 0h2m2 0h1m64 0h1M101 718h8m1 0h6m1 0h8m1 0h2m1 0h2m1 0h1m6 0h1m17 0h1m45 0h1M99 719h14m1 0h11m1 0h1m3 0h1m10 0h1m1 0h1M99 720h28m1 0h4m2 0h1m3 0h1m61 0h1m12 0h1m6 0h1M100 721h20m1 0h3m1 0h2m1 0h2m1 0h1m1 0h3m2 0h1m1 0h1m1 0h3m7 0h1m46 0h2m11 0h1M99 722h33m1 0h1m1 0h4m5 0h2m1 0h1m30 0h1m10 0h2m5 0h1m7 0h1m1 0h1m2 0h1m6 0h1m9 0h1M99 723h38m1 0h1m6 0h1m4 0h1m49 0h4m1 0h1m3 0h3m10 0h1M99 724h39m2 0h1m1 0h1m35 0h1m25 0h1m6 0h1m7 0h1m1 0h1M99 725h30m2 0h7m2 0h1m15 0h1m6 0h1m25 0h1m6 0h1m1 0h1m1 0h1m1 0h1m1 0h2m1 0h2m1 0h1m4 0h1M99 726h37m1 0h2m2 0h1m3 0h2m1 0h1m4 0h1m11 0h1m21 0h1m5 0h1m1 0h6m1 0h2m1 0h3m3 0h1m2 0h1m2 0h2m21 0h1M99 727h32m1 0h9m1 0h1m4 0h1m6 0h1m19 0h1m10 0h1m7 0h1m2 0h1m2 0h1m4 0h1m1 0h3m5 0h1m2 0h1m4 0h1m1 0h1M99 728h39m1 0h3m1 0h1m2 0h1m2 0h1m5 0h1m12 0h1m5 0h1m13 0h1m7 0h3m1 0h2m1 0h1m3 0h2m2 0h2m2 0h1m2 0h1M99 729h37m1 0h2m2 0h1m4 0h1m2 0h1m16 0h1m29 0h1m4 0h1m1 0h2m2 0h1m2 0h3m2 0h1m1 0h1M99 730h34m2 0h5m2 0h1m2 0h2m2 0h1m2 0h1m25 0h1m2 0h1m4 0h1m5 0h1m11 0h1m3 0h1m2 0h2m2 0h1m10 0h1M99 731h40m2 0h2m36 0h1m11 0h1m5 0h1m18 0h1m3 0h1M99 732h40m1 0h2m1 0h1m3 0h1m54 0h1m6 0h1m2 0h1m6 0h1M99 733h39m2 0h3m47 0h1m5 0h1m1 0h1m5 0h2m9 0h1m3 0h1M99 734h38m1 0h1m2 0h2m1 0h1m3 0h1m35 0h1M99 735h41m1 0h1m1 0h2m8 0h1m54 0h1M99 736h41m1 0h2m1 0h1m9 0h1m16 0h1m61 0h1M99 737h33m1 0h4m1 0h2m1 0h1m1 0h1m13 0h1m11 0h1m37 0h1m19 0h1M99 738h39m1 0h1m6 0h1m5 0h1M99 739h44m3 0h1M99 740h41m4 0h1m1 0h2m4 0h1M99 741h27m1 0h4m1 0h2m1 0h5m1 0h2m3 0h1M99 742h39m1 0h4m2 0h1m2 0h1M99 743h35m1 0h1m1 0h4m1 0h2m5 0h1m1 0h1M99 744h38m1 0h2m1 0h1m26 0h1M99 745h27m1 0h4m1 0h1m3 0h1m2 0h1m5 0h1M99 746h30m1 0h3m1 0h2m1 0h1m6 0h1m5 0h1m6 0h1M99 747h34m1 0h2m1 0h4m3 0h1m8 0h1m6 0h1M99 748h25m1 0h6m1 0h1m1 0h2m7 0h2m1 0h1m11 0h1m8 0h1M99 749h28m1 0h5m2 0h3m2 0h1m19 0h1m1 0h1m3 0h1M99 750h16m1 0h10m1 0h2m1 0h1m2 0h1m1 0h1m1 0h1m1 0h1m2 0h1m1 0h1m4 0h1M99 751h11m1 0h12m2 0h1m1 0h5m1 0h1m2 0h1m1 0h1m1 0h3m4 0h1M101 752h5m1 0h5m2 0h4m1 0h1m1 0h4m1 0h3m2 0h2m1 0h1m9 0h1m61 0h1M99 753h6m1 0h3m1 0h15m2 0h1m7 0h3m2 0h1M99 754h1m2 0h6m2 0h1m1 0h8m1 0h2m1 0h1m4 0h1m3 0h1m13 0h1m9 0h1M99 755h13m1 0h2m1 0h6m2 0h1m1 0h1m5 0h1m14 0h2m113 0h1M99 756h2m1 0h2m3 0h7m2 0h2m2 0h2m1 0h2m1 0h1m1 0h2m8 0h1m1 0h1m2 0h1m26 0h1M104 757h1m2 0h1m1 0h6m1 0h3m1 0h1m4 0h3m1 0h1m8 0h1m2 0h1m20 0h1m35 0h1M99 758h2m4 0h2m1 0h4m1 0h1m1 0h1m1 0h1m3 0h3m1 0h1m13 0h1m45 0h1M99 759h1m1 0h3m1 0h4m1 0h2m4 0h2m2 0h1m1 0h1m1 0h5m10 0h1m8 0h1m18 0h1m6 0h1M99 760h1m8 0h1m12 0h1m1 0h2m2 0h1m2 0h1m4 0h1m9 0h1m14 0h1M99 761h2m1 0h3m2 0h1m1 0h1m1 0h2m3 0h1m1 0h3m8 0h1m4 0h1m3 0h1m4 0h1m1 0h1m14 0h1m91 0h1M100 762h1m1 0h1m1 0h1m3 0h1m11 0h2m3 0h1m3 0h1m9 0h1m10 0h1m36 0h1m23 0h1M104 763h1m3 0h1m2 0h1m1 0h2m3 0h1m2 0h1m1 0h1m2 0h2m2 0h1m13 0h1m3 0h1M99 764h1m5 0h2m2 0h1m5 0h2m1 0h1m1 0h1m2 0h1m2 0h2m2 0h1m40 0h1M105 765h1m1 0h2m2 0h1m1 0h3m3 0h1m1 0h1m1 0h1m1 0h1m1 0h2m5 0h1m2 0h1m2 0h2m61 0h1M99 766h3m3 0h1m1 0h2m6 0h1m1 0h1m2 0h3m4 0h1m1 0h2m1 0h1m8 0h2m1 0h1m22 0h1m9 0h1M100 767h1m4 0h1m5 0h1m1 0h2m2 0h1m1 0h1m4 0h1m1 0h2m7 0h1m7 0h1m2 0h1m120 0h1m3 0h1M99 768h1m1 0h1m2 0h4m2 0h1m5 0h3m3 0h2m2 0h2m5 0h1m18 0h1m37 0h1M99 769h1m5 0h4m1 0h1m1 0h1m3 0h1m2 0h1m2 0h1m1 0h2m2 0h1m13 0h1m71 0h1M104 770h2m1 0h1m2 0h1m1 0h1m3 0h3m9 0h1m5 0h1m1 0h1m5 0h1m1 0h1M99 771h1m2 0h4m2 0h1m1 0h1m5 0h3m1 0h1m5 0h2m2 0h1m3 0h2m1 0h1m13 0h1M102 772h2m1 0h1m4 0h1m2 0h2m4 0h1m14 0h1m6 0h1m7 0h1m110 0h1M99 773h1m8 0h1m1 0h1m2 0h1m5 0h3m3 0h1m1 0h1m2 0h1m4 0h1m2 0h1m1 0h1m69 0h1M99 774h1m3 0h1m2 0h1m7 0h1m1 0h1m7 0h2m1 0h1m1 0h1m7 0h2m3 0h1m1 0h1m43 0h1M103 775h1m1 0h1m2 0h2m1 0h2m4 0h1m1 0h1m2 0h2m2 0h1m3 0h1m1 0h2m1 0h1m6 0h1m2 0h1m34 0h1m6 0h1M104 776h2m1 0h1m2 0h2m3 0h1m1 0h1m4 0h1m3 0h1m6 0h1m2 0h2m2 0h2m4 0h1m17 0h1m11 0h1m42 0h1M99 777h1m2 0h1m2 0h3m1 0h2m1 0h1m1 0h1m2 0h1m2 0h1m4 0h1m6 0h1m1 0h1m10 0h1m75 0h1M99 778h1m6 0h1m2 0h2m5 0h1m1 0h1m3 0h1m1 0h5m1 0h1m6 0h1m2 0h1m2 0h1m85 0h1M104 779h3m3 0h1m2 0h1m7 0h1m3 0h6m1 0h2m2 0h1m3 0h1m1 0h1M100 780h2m3 0h1m9 0h1m1 0h1m3 0h1m3 0h1m2 0h2m2 0h1m1 0h1m8 0h1m4 0h1m7 0h1m98 0h1M101 781h1m2 0h1m3 0h1m1 0h2m3 0h2m2 0h2m1 0h4m3 0h1m9 0h1M100 782h1m1 0h4m5 0h2m4 0h1m1 0h1m2 0h1m3 0h1m3 0h1m15 0h1m22 0h1M100 783h1m1 0h1m4 0h1m6 0h2m1 0h1m9 0h2m8 0h1m1 0h2m11 0h1m12 0h1M104 784h2m4 0h1m2 0h2m1 0h3m1 0h3m1 0h1m2 0h1m4 0h1m1 0h1m1 0h1m2 0h1m1 0h1m109 0h1M102 785h1m1 0h1m2 0h2m3 0h1m1 0h1m1 0h2m2 0h1m4 0h1m1 0h1m1 0h1m1 0h1m10 0h1M103 786h1m12 0h1m1 0h1m2 0h1m2 0h2m11 0h1m13 0h1m68 0h1M100 787h1m2 0h4m2 0h1m2 0h2m3 0h1m2 0h1m2 0h1m2 0h1m1 0h1m3 0h2m1 0h1m4 0h1m23 0h1m32 0h1M101 788h2m2 0h2m1 0h2m3 0h1m2 0h2m3 0h3m3 0h2m1 0h1m1 0h2m2 0h1m1 0h2m2 0h3m15 0h1M100 789h1m1 0h1m1 0h3m4 0h2m4 0h1m1 0h1m3 0h1m5 0h1m1 0h2m5 0h1m11 0h1m24 0h1M107 790h2m4 0h2m1 0h1m3 0h9m1 0h4m1 0h1m1 0h2m4 0h1m6 0h1m37 0h1M101 791h1m3 0h1m2 0h1m3 0h1m1 0h4m5 0h2m1 0h2m4 0h1m5 0h2m2 0h1m8 0h3m11 0h1M100 792h1m1 0h1m1 0h1m2 0h2m2 0h1m1 0h3m1 0h3m1 0h1m1 0h7m1 0h4m1 0h2m5 0h1m1 0h2m32 0h1m3 0h1M102 793h4m2 0h3m4 0h6m1 0h8m1 0h1m1 0h3m2 0h1m1 0h1m1 0h1m22 0h1m19 0h1M102 794h3m1 0h4m1 0h1m1 0h2m1 0h15m1 0h3m1 0h4m2 0h1m3 0h1m9 0h1m1 0h1m31 0h1m72 0h1M99 795h1m1 0h3m1 0h2m1 0h6m1 0h18m1 0h1m1 0h4m4 0h1m4 0h1m10 0h1m14 0h1M99 796h1m1 0h32m1 0h2m1 0h1m4 0h1m4 0h1m14 0h1m11 0h1M99 797h10m1 0h31m3 0h1m3 0h1m22 0h1M99 798h38m2 0h3m6 0h1m24 0h1m89 0h1M99 799h40m2 0h1m2 0h2m14 0h1m6 0h1M99 800h42m1 0h1m3 0h1m13 0h1m107 0h1M99 801h39m1 0h3m1 0h1m2 0h1m10 0h1m17 0h1m4 0h1m9 0h1m48 0h1M99 802h41m2 0h2m1 0h1m2 0h2m36 0h1M99 803h41m1 0h3m26 0h1m31 0h1M99 804h41m1 0h3m29 0h1m8 0h1M99 805h43m2 0h1m1 0h1m3 0h1m29 0h1m8 0h1m5 0h1m3 0h1M99 806h44m34 0h1m97 0h1M99 807h43m1 0h1m15 0h1m7 0h1m6 0h1M99 808h45m1 0h1m6 0h1m8 0h1m13 0h1M99 809h43m2 0h3m4 0h1m1 0h1m1 0h1M99 810h43m3 0h1m3 0h1m23 0h1M99 811h39m1 0h2m3 0h1m1 0h1m8 0h1m28 0h1M99 812h44m1 0h2m2 0h1m2 0h1m28 0h1m7 0h1M99 813h39m1 0h3m2 0h2m14 0h1m67 0h1M99 814h39m2 0h2m52 0h1m78 0h1M99 815h40m1 0h4m34 0h1m8 0h1m10 0h1m70 0h1M99 816h41m2 0h1m2 0h1m8 0h1m15 0h1m3 0h1m81 0h1M99 817h39m1 0h1m2 0h2m1 0h1m17 0h1m11 0h1m4 0h1M99 818h35m1 0h2m5 0h1m4 0h1m5 0h1m2 0h1m4 0h1m17 0h1m1 0h1M99 819h33m1 0h2m1 0h3m3 0h1m3 0h1m9 0h1m36 0h1m4 0h1M99 820h36m2 0h1m1 0h1m3 0h1m2 0h1m2 0h2M99 821h36m1 0h3m2 0h1m10 0h1m5 0h1m5 0h1m8 0h1m9 0h1M99 822h34m1 0h2m9 0h1m15 0h1m5 0h1M99 823h38m1 0h1m6 0h2M99 824h31m1 0h3m11 0h1m16 0h1m11 0h1" stroke="#000" stroke-width="1" fill="none" shape-rendering="crispEdges" filter="url(#bl)"/>
<path d="M99 674.5H277.1V825.3" fill="none" stroke="#000" stroke-width="1.3"/>
<path d="M98.7 673.9V825.3" fill="none" stroke="#000" stroke-width="2.2"/>
<path d="M97.6 825.5H277.7" fill="none" stroke="#000" stroke-width="1.7"/>
<path d="M187.5 674.5V825.3M99 740.2H277.1" fill="none" stroke="#000" stroke-width="1.5"/>
<path d="M99 825.3v3.2M99 825.3h-3.8M143.53 825.3v3.2M99 787.6h-3.8M188.05 825.3v3.2M99 749.9h-3.8M232.58 825.3v3.2M99 712.2h-3.8M277.1 825.3v3.2M99 674.5h-3.8" stroke="#000" stroke-width="1.4" fill="none"/>
<path d="M112.4 825.3v2M99 813.95h-2.2M120.24 825.3v2M99 807.31h-2.2M125.81 825.3v2M99 802.6h-2.2M130.12 825.3v2M99 798.95h-2.2M133.65 825.3v2M99 795.96h-2.2M136.63 825.3v2M99 793.44h-2.2M139.21 825.3v2M99 791.25h-2.2M141.49 825.3v2M99 789.33h-2.2M156.93 825.3v2M99 776.25h-2.2M164.77 825.3v2M99 769.61h-2.2M170.33 825.3v2M99 764.9h-2.2M174.65 825.3v2M99 761.25h-2.2M178.17 825.3v2M99 758.26h-2.2M181.15 825.3v2M99 755.74h-2.2M183.74 825.3v2M99 753.55h-2.2M186.01 825.3v2M99 751.63h-2.2M201.45 825.3v2M99 738.55h-2.2M209.29 825.3v2M99 731.91h-2.2M214.86 825.3v2M99 727.2h-2.2M219.17 825.3v2M99 723.55h-2.2M222.7 825.3v2M99 720.56h-2.2M225.68 825.3v2M99 718.04h-2.2M228.26 825.3v2M99 715.85h-2.2M230.54 825.3v2M99 713.93h-2.2M245.98 825.3v2M99 700.85h-2.2M253.82 825.3v2M99 694.21h-2.2M259.38 825.3v2M99 689.5h-2.2M263.7 825.3v2M99 685.85h-2.2M267.22 825.3v2M99 682.86h-2.2M270.2 825.3v2M99 680.34h-2.2M272.79 825.3v2M99 678.15h-2.2M275.06 825.3v2M99 676.23h-2.2" stroke="#000" stroke-width="0.8" fill="none"/>
<text x="95.3" y="842.3" font-family='"Liberation Sans", sans-serif' font-size="11.8" textLength="11.8" lengthAdjust="spacingAndGlyphs">10</text>
<text x="106" y="839" font-family='"Liberation Sans", sans-serif' font-size="11.3">0</text>
<text x="138.7" y="842.3" font-family='"Liberation Sans", sans-serif' font-size="11.8" textLength="11.8" lengthAdjust="spacingAndGlyphs">10</text>
<text x="149.4" y="839" font-family='"Liberation Sans", sans-serif' font-size="11.3">1</text>
<text x="182.1" y="842.3" font-family='"Liberation Sans", sans-serif' font-size="11.8" textLength="11.8" lengthAdjust="spacingAndGlyphs">10</text>
<text x="192.8" y="839" font-family='"Liberation Sans", sans-serif' font-size="11.3">2</text>
<text x="225.5" y="842.3" font-family='"Liberation Sans", sans-serif' font-size="11.8" textLength="11.8" lengthAdjust="spacingAndGlyphs">10</text>
<text x="236.2" y="839" font-family='"Liberation Sans", sans-serif' font-size="11.3">3</text>
<text x="268.9" y="842.3" font-family='"Liberation Sans", sans-serif' font-size="11.8" textLength="11.8" lengthAdjust="spacingAndGlyphs">10</text>
<text x="279.6" y="839" font-family='"Liberation Sans", sans-serif' font-size="11.3">4</text>
<g transform="translate(92.6 830.3) rotate(-90)"><text x="0" y="0" transform="scale(0.56 1)" font-family='"Liberation Sans", sans-serif' font-weight="700" font-size="10.4">10</text><text x="7.6" y="-4.6" transform="scale(0.9 1)" font-family='"Liberation Sans", sans-serif' font-weight="700" font-size="8.6">0</text></g>
<g transform="translate(92.6 793.9) rotate(-90)"><text x="0" y="0" transform="scale(0.56 1)" font-family='"Liberation Sans", sans-serif' font-weight="700" font-size="10.4">10</text><text x="7.6" y="-4.6" transform="scale(0.9 1)" font-family='"Liberation Sans", sans-serif' font-weight="700" font-size="8.6">1</text></g>
<g transform="translate(92.6 756.2) rotate(-90)"><text x="0" y="0" transform="scale(0.56 1)" font-family='"Liberation Sans", sans-serif' font-weight="700" font-size="10.4">10</text><text x="7.6" y="-4.6" transform="scale(0.9 1)" font-family='"Liberation Sans", sans-serif' font-weight="700" font-size="8.6">2</text></g>
<g transform="translate(92.6 718.5) rotate(-90)"><text x="0" y="0" transform="scale(0.56 1)" font-family='"Liberation Sans", sans-serif' font-weight="700" font-size="10.4">10</text><text x="7.6" y="-4.6" transform="scale(0.9 1)" font-family='"Liberation Sans", sans-serif' font-weight="700" font-size="8.6">3</text></g>
<g transform="translate(92.6 680.8) rotate(-90)"><text x="0" y="0" transform="scale(0.56 1)" font-family='"Liberation Sans", sans-serif' font-weight="700" font-size="10.4">10</text><text x="7.6" y="-4.6" transform="scale(0.9 1)" font-family='"Liberation Sans", sans-serif' font-weight="700" font-size="8.6">4</text></g>
<text x="266" y="697.7" text-anchor="end" font-family='"Liberation Serif", serif' font-size="16">1.64%</text>
</g>
<g id="plot4">
<path transform="translate(0 0.5)" d="M410 706h1m29 0h1M440 708h1M402 710h1m31 0h1M421 711h1m7 0h1M336 712h1m60 0h1m29 0h1M378 713h1m20 0h1m23 0h2m4 0h1m14 0h1M332 714h1m3 0h1m2 0h1m13 0h2m12 0h1m24 0h1m17 0h1m6 0h1M362 715h1m39 0h1m5 0h1m1 0h1m10 0h1M334 716h1m13 0h1m3 0h3m5 0h1m19 0h1m16 0h1m7 0h1m2 0h2m3 0h1m1 0h1m2 0h1m1 0h1m7 0h2m5 0h1M332 717h1m1 0h1m3 0h1m1 0h2m1 0h1m5 0h3m2 0h1m2 0h1m2 0h1m17 0h1m7 0h1m6 0h1m11 0h1m4 0h1m22 0h1m1 0h1M332 718h3m1 0h1m1 0h3m1 0h1m2 0h1m1 0h2m3 0h2m1 0h1m3 0h1m1 0h1m2 0h1m8 0h1m5 0h1m18 0h3m3 0h1m4 0h1m5 0h1m1 0h1m5 0h1m3 0h1M333 719h1m2 0h3m3 0h1m4 0h3m2 0h1m1 0h1m1 0h1m8 0h1m13 0h1m4 0h1m9 0h2m2 0h1m3 0h2m1 0h1m4 0h1m1 0h1m1 0h2m2 0h1m1 0h2m3 0h1m1 0h1m1 0h1m2 0h1m8 0h1M332 720h1m1 0h8m1 0h2m1 0h3m1 0h2m2 0h1m2 0h1m1 0h1m19 0h2m3 0h2m5 0h2m9 0h1m2 0h1m3 0h3m2 0h1m4 0h1m1 0h1m1 0h2m2 0h1m2 0h2M333 721h1m1 0h15m1 0h5m2 0h1m3 0h3m1 0h1m1 0h1m9 0h2m5 0h1m3 0h1m1 0h1m2 0h4m1 0h2m3 0h2m2 0h1m2 0h1m4 0h4m2 0h3m1 0h1m1 0h1m3 0h1m2 0h1m4 0h1M332 722h17m1 0h5m1 0h4m1 0h1m2 0h1m2 0h2m4 0h2m3 0h1m2 0h1m4 0h1m1 0h1m3 0h1m1 0h1m2 0h1m3 0h4m2 0h2m2 0h2m1 0h2m1 0h2m3 0h1m2 0h2m1 0h3m4 0h1m1 0h1m1 0h1m2 0h1m21 0h1M332 723h7m1 0h17m1 0h1m1 0h2m1 0h1m1 0h3m4 0h2m3 0h1m4 0h1m1 0h4m1 0h1m4 0h4m1 0h1m3 0h8m1 0h8m1 0h2m1 0h1m1 0h3m2 0h1m3 0h1m3 0h1m1 0h1M332 724h23m2 0h6m1 0h2m4 0h3m1 0h1m1 0h1m3 0h1m1 0h1m2 0h1m2 0h1m3 0h2m1 0h1m3 0h5m1 0h1m1 0h1m1 0h3m1 0h2m1 0h3m1 0h3m1 0h2m1 0h2m1 0h8m3 0h4m20 0h1M332 725h33m1 0h2m1 0h2m2 0h1m2 0h1m2 0h1m3 0h3m1 0h1m1 0h2m1 0h3m1 0h1m2 0h3m1 0h4m1 0h8m1 0h13m1 0h1m1 0h4m1 0h1m2 0h1m1 0h2m9 0h1M332 726h26m1 0h1m1 0h1m2 0h2m5 0h2m1 0h1m3 0h1m3 0h1m1 0h2m2 0h1m1 0h1m2 0h4m1 0h2m1 0h1m1 0h23m1 0h2m1 0h2m4 0h1m1 0h1m2 0h1m1 0h1m19 0h1M332 727h3m1 0h21m1 0h1m1 0h5m1 0h4m2 0h4m9 0h1m1 0h8m2 0h30m1 0h4m4 0h4m2 0h3m1 0h1m2 0h1M332 728h33m3 0h1m1 0h1m2 0h1m1 0h1m2 0h1m1 0h1m3 0h3m2 0h1m1 0h2m1 0h42m1 0h2m1 0h2m2 0h1m1 0h1M332 729h32m4 0h1m1 0h1m8 0h3m1 0h1m2 0h1m6 0h1m1 0h6m2 0h8m1 0h25m2 0h1m3 0h3m5 0h2m2 0h1M332 730h39m1 0h1m2 0h1m2 0h2m1 0h1m1 0h1m6 0h1m1 0h2m1 0h3m1 0h1m1 0h6m1 0h28m2 0h3m4 0h1m2 0h1m3 0h2M332 731h38m3 0h1m3 0h2m1 0h1m5 0h2m1 0h1m1 0h4m1 0h30m1 0h7m1 0h2m1 0h3m2 0h4m3 0h1m3 0h1M332 732h15m1 0h15m2 0h2m1 0h2m8 0h1m1 0h2m2 0h2m2 0h1m3 0h2m2 0h4m1 0h36m7 0h1m1 0h2m2 0h1m18 0h1M332 733h30m1 0h1m1 0h3m1 0h1m1 0h1m2 0h3m2 0h1m4 0h1m2 0h1m1 0h2m2 0h1m1 0h2m1 0h1m1 0h5m2 0h32m1 0h1m1 0h3m1 0h1m2 0h4M332 734h32m2 0h2m2 0h2m4 0h1m5 0h1m5 0h1m1 0h1m2 0h4m1 0h3m1 0h7m1 0h23m1 0h1m1 0h2m2 0h1m1 0h2m2 0h1m4 0h1M332 735h34m1 0h1m1 0h1m2 0h2m4 0h1m8 0h1m2 0h1m1 0h2m1 0h3m2 0h10m1 0h22m1 0h2m1 0h1m1 0h1m1 0h1M332 736h39m1 0h1m1 0h2m8 0h1m1 0h1m4 0h3m1 0h2m2 0h2m1 0h8m1 0h2m1 0h9m1 0h14m2 0h1m4 0h1M332 737h31m1 0h4m1 0h1m1 0h1m1 0h1m3 0h2m1 0h1m2 0h1m2 0h1m6 0h3m3 0h2m1 0h4m1 0h4m1 0h13m1 0h5m4 0h3m2 0h1m1 0h2m1 0h2m24 0h1M332 738h22m1 0h1m1 0h11m1 0h1m1 0h3m1 0h1m10 0h1m2 0h1m1 0h1m1 0h1m1 0h1m1 0h2m2 0h1m1 0h3m1 0h9m1 0h8m1 0h7m1 0h4m2 0h5M332 739h29m1 0h2m1 0h6m4 0h1m19 0h3m1 0h2m1 0h1m2 0h1m1 0h15m1 0h4m1 0h6m1 0h1m1 0h1m1 0h1m3 0h1M332 740h4m1 0h27m1 0h9m11 0h1m6 0h1m1 0h1m4 0h1m4 0h6m1 0h1m1 0h1m2 0h10m2 0h3m1 0h4m2 0h1m1 0h4M332 741h34m2 0h1m1 0h1m1 0h1m4 0h1m5 0h1m17 0h1m1 0h4m3 0h1m1 0h1m1 0h9m1 0h5m1 0h4m1 0h1m6 0h1m3 0h1M332 742h34m1 0h1m1 0h1m2 0h2m2 0h1m15 0h1m2 0h2m1 0h1m3 0h1m3 0h1m5 0h1m1 0h3m1 0h2m3 0h2m1 0h4m1 0h1m1 0h1m3 0h3m1 0h1m4 0h2m1 0h1m10 0h1M332 743h14m1 0h24m3 0h1m1 0h1m1 0h1m15 0h1m9 0h1m6 0h1m2 0h1m2 0h3m1 0h2m1 0h1m1 0h4m1 0h1m1 0h1m3 0h1m2 0h3m9 0h1m1 0h1M332 744h15m1 0h14m1 0h2m1 0h1m2 0h1m1 0h1m11 0h1m10 0h1m1 0h2m9 0h1m2 0h2m2 0h1m1 0h2m2 0h2m4 0h3m1 0h1m1 0h1m1 0h1m6 0h1m1 0h2m30 0h1M332 745h32m1 0h8m1 0h1m4 0h1m6 0h2m5 0h1m2 0h1m16 0h2m1 0h3m2 0h7m1 0h1m1 0h1m1 0h1m1 0h1m1 0h1m7 0h2M332 746h31m2 0h2m2 0h3m3 0h2m3 0h1m7 0h2m1 0h1m2 0h1m3 0h1m3 0h1m1 0h1m1 0h1m1 0h1m5 0h1m2 0h1m1 0h1m2 0h1m2 0h2m1 0h1m10 0h2M332 747h38m2 0h1m3 0h1m2 0h1m12 0h2m1 0h1m5 0h1m1 0h1m2 0h1m4 0h1m3 0h2m4 0h1m1 0h1m4 0h4m1 0h1m1 0h1m1 0h2m7 0h1M332 748h31m1 0h4m2 0h1m6 0h1m6 0h2m1 0h3m9 0h1m13 0h1m1 0h4m1 0h2m4 0h2m1 0h2m2 0h2m1 0h1M332 749h30m1 0h2m1 0h2m1 0h1m1 0h1m5 0h1m5 0h2m1 0h1m4 0h2m1 0h1m2 0h1m8 0h1m1 0h1m1 0h1m4 0h1m5 0h1m5 0h2m1 0h1m2 0h1m3 0h1m1 0h1M332 750h32m4 0h2m1 0h2m4 0h1m9 0h1m1 0h1m2 0h2m1 0h2m3 0h1m6 0h2m14 0h3m1 0h4m2 0h1m3 0h1m17 0h1M332 751h31m1 0h1m4 0h3m11 0h4m1 0h1m9 0h1m1 0h1m2 0h1m4 0h1m2 0h1m2 0h1m3 0h1m4 0h1m6 0h1m4 0h1m6 0h2M332 752h31m1 0h1m1 0h1m1 0h2m1 0h1m9 0h1m7 0h1m2 0h1m1 0h1m1 0h1m2 0h2m3 0h1m2 0h1m2 0h1m1 0h1m7 0h1m5 0h1M332 753h5m1 0h25m2 0h3m1 0h1m5 0h2m2 0h1m4 0h1m1 0h1m3 0h3m14 0h1m2 0h1m10 0h1m2 0h1m3 0h1m8 0h1M332 754h32m1 0h1m2 0h1m7 0h2m2 0h1m2 0h1m3 0h1m1 0h3m1 0h1m16 0h1m6 0h1M332 755h8m1 0h5m1 0h12m1 0h9m3 0h1m1 0h1m5 0h3m1 0h3m4 0h3m9 0h1m1 0h1m8 0h1m1 0h1m4 0h1m8 0h1m4 0h1M332 756h8m2 0h12m1 0h5m1 0h1m1 0h1m1 0h1m4 0h1m1 0h2m1 0h2m2 0h2m1 0h1m1 0h2m6 0h2m1 0h1m6 0h1m1 0h1m7 0h1m3 0h1m4 0h1M332 757h4m1 0h11m1 0h2m1 0h10m1 0h1m3 0h1m2 0h2m1 0h2m2 0h1m1 0h1m4 0h1m2 0h1m3 0h1m2 0h1m13 0h1m6 0h1m1 0h1M332 758h15m1 0h2m1 0h6m1 0h1m1 0h2m1 0h1m2 0h3m1 0h1m4 0h1m4 0h1m1 0h2m9 0h1m1 0h1m3 0h1m2 0h1m1 0h1m5 0h1m3 0h1m1 0h2M332 759h2m1 0h1m1 0h1m1 0h1m1 0h2m1 0h8m3 0h1m1 0h1m1 0h1m3 0h2m1 0h1m7 0h1m6 0h2m1 0h2m1 0h1m1 0h1m2 0h1m9 0h2m3 0h1m1 0h1m7 0h1m1 0h2m3 0h1m12 0h1M332 760h2m1 0h2m1 0h1m1 0h5m1 0h4m2 0h2m1 0h2m2 0h3m1 0h1m2 0h3m1 0h1m2 0h5m2 0h1m2 0h1m6 0h2m1 0h2m3 0h1M333 761h3m1 0h3m1 0h5m2 0h2m1 0h8m2 0h1m1 0h3m1 0h3m3 0h1m2 0h6m5 0h2m2 0h1m2 0h1m4 0h2m3 0h2m2 0h1m4 0h1m4 0h1M332 762h1m1 0h5m2 0h1m1 0h2m1 0h11m1 0h6m6 0h3m1 0h1m1 0h2m2 0h1m1 0h1m3 0h1m3 0h2m2 0h1m4 0h2m1 0h1m3 0h2m5 0h1M333 763h1m1 0h5m1 0h4m1 0h4m1 0h3m1 0h1m1 0h2m1 0h1m5 0h2m5 0h5m2 0h1m3 0h1m2 0h1m2 0h1m7 0h4m8 0h1m5 0h1m2 0h1M332 764h6m2 0h3m1 0h4m1 0h6m1 0h1m1 0h1m1 0h2m2 0h2m1 0h1m2 0h2m1 0h1m1 0h2m1 0h2m2 0h3m3 0h1m4 0h1m6 0h1m1 0h2m3 0h1m2 0h2M335 765h1m1 0h2m1 0h2m1 0h7m2 0h3m1 0h9m1 0h2m4 0h1m1 0h1m2 0h1m3 0h1m1 0h1m1 0h2m3 0h2m4 0h1m31 0h1M332 766h1m1 0h7m3 0h1m1 0h1m1 0h1m1 0h7m1 0h1m1 0h1m1 0h1m2 0h1m2 0h2m3 0h3m12 0h1m1 0h2m3 0h2m5 0h1m4 0h1m17 0h1M332 767h1m1 0h2m1 0h4m1 0h3m1 0h1m3 0h10m1 0h4m1 0h2m1 0h1m2 0h1m2 0h1m2 0h1m2 0h1m2 0h1m2 0h2m2 0h1m2 0h1m6 0h1m1 0h2m2 0h2M332 768h3m1 0h1m1 0h1m1 0h2m2 0h3m1 0h8m1 0h5m1 0h1m3 0h1m4 0h1m1 0h2m1 0h1m3 0h1m1 0h1m2 0h1m4 0h1m3 0h3m1 0h1m6 0h1m3 0h1M332 769h3m1 0h4m1 0h10m1 0h1m2 0h1m1 0h5m1 0h2m1 0h3m4 0h2m1 0h3m2 0h2m1 0h1m4 0h1m7 0h1m1 0h1m3 0h1m4 0h1M332 770h4m1 0h4m1 0h7m1 0h2m1 0h8m1 0h7m1 0h2m2 0h1m2 0h1m1 0h3m3 0h1m1 0h1m1 0h1m2 0h1m4 0h3m1 0h1m3 0h1m4 0h1m16 0h1M333 771h2m1 0h7m2 0h4m3 0h3m3 0h5m1 0h2m2 0h4m1 0h2m3 0h1m2 0h1m1 0h1m3 0h1m1 0h1m3 0h1m6 0h1m4 0h1m21 0h1M333 772h2m3 0h14m3 0h3m2 0h4m1 0h4m2 0h1m1 0h1m1 0h1m4 0h1m1 0h2m1 0h2m1 0h1m1 0h1m1 0h1M332 773h1m1 0h1m1 0h1m2 0h2m3 0h8m2 0h1m1 0h1m4 0h1m1 0h2m1 0h2m2 0h6m1 0h3m7 0h3m1 0h1m8 0h1m13 0h1M332 774h1m3 0h7m1 0h2m2 0h1m1 0h1m1 0h3m2 0h2m1 0h2m1 0h1m1 0h1m1 0h1m2 0h1m1 0h1m2 0h1m2 0h2m2 0h1m6 0h1M332 775h1m3 0h2m1 0h2m2 0h1m2 0h4m1 0h1m1 0h2m1 0h1m1 0h4m1 0h1m2 0h4m2 0h1m1 0h1m1 0h2m4 0h2m5 0h1m14 0h1m4 0h1m11 0h1M332 776h5m1 0h9m1 0h1m1 0h15m3 0h1m3 0h1m1 0h2m5 0h2m1 0h1m3 0h2m2 0h1m1 0h1m1 0h1M334 777h4m1 0h4m2 0h1m1 0h7m1 0h3m1 0h2m1 0h1m2 0h3m1 0h2m1 0h4m1 0h1m1 0h1m18 0h1m7 0h1M332 778h6m2 0h8m2 0h3m1 0h1m1 0h1m1 0h4m1 0h2m1 0h6m4 0h1m1 0h1m1 0h1m27 0h1M333 779h4m1 0h8m5 0h2m2 0h1m1 0h2m2 0h1m1 0h4m2 0h1m3 0h1m2 0h1m2 0h2m7 0h1m4 0h1m6 0h1m9 0h1m2 0h1M334 780h4m2 0h4m3 0h2m1 0h1m1 0h2m1 0h9m2 0h4m1 0h1m2 0h2m5 0h1m4 0h1m6 0h1M332 781h2m1 0h8m1 0h2m1 0h8m3 0h2m1 0h7m1 0h2m1 0h1m1 0h2m3 0h2m4 0h1m1 0h1M332 782h1m2 0h1m3 0h3m1 0h4m1 0h7m4 0h5m1 0h3m1 0h1m4 0h1m3 0h3m5 0h1m7 0h1m7 0h1M333 783h2m1 0h1m1 0h2m2 0h1m1 0h4m1 0h5m1 0h9m1 0h6m1 0h1m1 0h1m1 0h1m6 0h1m11 0h1M332 784h5m3 0h2m1 0h4m1 0h2m1 0h10m1 0h4m1 0h2m2 0h1m1 0h2m2 0h1m1 0h1m1 0h1m6 0h1m2 0h1m4 0h1m1 0h1M334 785h3m1 0h2m1 0h3m1 0h20m1 0h1m3 0h2m1 0h1m2 0h3m7 0h1m1 0h1m4 0h1m2 0h1M332 786h4m1 0h15m1 0h4m1 0h9m2 0h5m2 0h1m1 0h1m6 0h1m1 0h2m15 0h1M334 787h1m2 0h2m1 0h2m3 0h1m1 0h2m1 0h10m1 0h7m1 0h1m1 0h1m1 0h2m2 0h2m1 0h2m1 0h1M336 788h2m1 0h5m1 0h10m1 0h5m1 0h5m1 0h7m1 0h3m3 0h1m3 0h1M333 789h5m1 0h2m1 0h5m1 0h26m1 0h2m2 0h2m1 0h1m8 0h1m6 0h1M332 790h1m1 0h2m3 0h6m1 0h23m1 0h6m1 0h2m2 0h1M333 791h1m1 0h2m3 0h4m2 0h27m1 0h1m3 0h2m2 0h1m1 0h1M335 792h44m1 0h1m1 0h2m1 0h1M334 793h3m1 0h28m1 0h11m2 0h2M332 794h1m2 0h2m1 0h3m1 0h3m1 0h24m1 0h4m1 0h1m2 0h5m9 0h1M333 795h2m2 0h38m1 0h2m2 0h3m5 0h1M333 796h9m1 0h30m1 0h1m1 0h2M334 797h32m1 0h5m1 0h7m3 0h1m6 0h1M333 798h2m1 0h41m1 0h2m2 0h1m2 0h1M333 799h1m1 0h37m1 0h4m1 0h1m1 0h1m1 0h2m11 0h1M332 800h41m2 0h1m1 0h5m11 0h1M332 801h43m1 0h3m1 0h1M332 802h45m6 0h1m11 0h1M332 803h41m1 0h7m2 0h1m5 0h1m3 0h1M332 804h41m1 0h1m1 0h3m3 0h3m3 0h1m4 0h1M332 805h40m1 0h5m3 0h4M332 806h45m1 0h1m10 0h1M332 807h42m1 0h2m2 0h2M332 808h44m5 0h1m2 0h2M332 809h38m1 0h1m2 0h2m2 0h1m4 0h1M332 810h35m1 0h7m1 0h2m15 0h1M332 811h41m2 0h1m6 0h1M332 812h36m5 0h1m6 0h2M332 813h39m2 0h3m2 0h1M332 814h33m1 0h3m1 0h1m1 0h1m1 0h4M332 815h38m1 0h1m6 0h1m3 0h1m1 0h1M332 816h36m1 0h6m2 0h1m5 0h1M332 817h34m1 0h3m4 0h1M332 818h31m1 0h3m2 0h5m1 0h1m2 0h1m1 0h1m12 0h1M332 819h30m2 0h4m2 0h2m4 0h1m8 0h1M332 820h28m1 0h1m1 0h4m1 0h1m8 0h2M332 821h31m1 0h3m1 0h1m3 0h2M332 822h31m1 0h2m2 0h3m2 0h1M332 823h27m1 0h5m2 0h1M332 824h23m1 0h5m2 0h1m2 0h1m5 0h1" stroke="#000" stroke-width="1" fill="none" shape-rendering="crispEdges" filter="url(#bl)"/>
<path d="M331.3 674.6H508.5V825.4" fill="none" stroke="#000" stroke-width="1.3"/>
<path d="M331 674V825.4" fill="none" stroke="#000" stroke-width="2.2"/>
<path d="M329.9 825.6H509.1" fill="none" stroke="#000" stroke-width="1.7"/>
<path d="M392 674.6V825.4M331.3 754.2H508.5" fill="none" stroke="#000" stroke-width="1.5"/>
<path d="M331.3 825.4v3.2M331.3 825.4h-3.8M375.6 825.4v3.2M331.3 787.7h-3.8M419.9 825.4v3.2M331.3 750h-3.8M464.2 825.4v3.2M331.3 712.3h-3.8M508.5 825.4v3.2M331.3 674.6h-3.8" stroke="#000" stroke-width="1.4" fill="none"/>
<path d="M344.64 825.4v2M331.3 814.05h-2.2M352.44 825.4v2M331.3 807.41h-2.2M357.97 825.4v2M331.3 802.7h-2.2M362.26 825.4v2M331.3 799.05h-2.2M365.77 825.4v2M331.3 796.06h-2.2M368.74 825.4v2M331.3 793.54h-2.2M371.31 825.4v2M331.3 791.35h-2.2M373.57 825.4v2M331.3 789.43h-2.2M388.94 825.4v2M331.3 776.35h-2.2M396.74 825.4v2M331.3 769.71h-2.2M402.27 825.4v2M331.3 765h-2.2M406.56 825.4v2M331.3 761.35h-2.2M410.07 825.4v2M331.3 758.36h-2.2M413.04 825.4v2M331.3 755.84h-2.2M415.61 825.4v2M331.3 753.65h-2.2M417.87 825.4v2M331.3 751.73h-2.2M433.24 825.4v2M331.3 738.65h-2.2M441.04 825.4v2M331.3 732.01h-2.2M446.57 825.4v2M331.3 727.3h-2.2M450.86 825.4v2M331.3 723.65h-2.2M454.37 825.4v2M331.3 720.66h-2.2M457.34 825.4v2M331.3 718.14h-2.2M459.91 825.4v2M331.3 715.95h-2.2M462.17 825.4v2M331.3 714.03h-2.2M477.54 825.4v2M331.3 700.95h-2.2M485.34 825.4v2M331.3 694.31h-2.2M490.87 825.4v2M331.3 689.6h-2.2M495.16 825.4v2M331.3 685.95h-2.2M498.67 825.4v2M331.3 682.96h-2.2M501.64 825.4v2M331.3 680.44h-2.2M504.21 825.4v2M331.3 678.25h-2.2M506.47 825.4v2M331.3 676.33h-2.2" stroke="#000" stroke-width="0.8" fill="none"/>
<text x="326.4" y="842.4" font-family='"Liberation Sans", sans-serif' font-size="11.8" textLength="11.8" lengthAdjust="spacingAndGlyphs">10</text>
<text x="337.1" y="839.1" font-family='"Liberation Sans", sans-serif' font-size="11.3">0</text>
<text x="370" y="842.4" font-family='"Liberation Sans", sans-serif' font-size="11.8" textLength="11.8" lengthAdjust="spacingAndGlyphs">10</text>
<text x="380.7" y="839.1" font-family='"Liberation Sans", sans-serif' font-size="11.3">1</text>
<text x="413.6" y="842.4" font-family='"Liberation Sans", sans-serif' font-size="11.8" textLength="11.8" lengthAdjust="spacingAndGlyphs">10</text>
<text x="424.3" y="839.1" font-family='"Liberation Sans", sans-serif' font-size="11.3">2</text>
<text x="457.2" y="842.4" font-family='"Liberation Sans", sans-serif' font-size="11.8" textLength="11.8" lengthAdjust="spacingAndGlyphs">10</text>
<text x="467.9" y="839.1" font-family='"Liberation Sans", sans-serif' font-size="11.3">3</text>
<text x="500.8" y="842.4" font-family='"Liberation Sans", sans-serif' font-size="11.8" textLength="11.8" lengthAdjust="spacingAndGlyphs">10</text>
<text x="511.5" y="839.1" font-family='"Liberation Sans", sans-serif' font-size="11.3">4</text>
<g transform="translate(324.9 830.4) rotate(-90)"><text x="0" y="0" transform="scale(0.56 1)" font-family='"Liberation Sans", sans-serif' font-weight="700" font-size="10.4">10</text><text x="7.6" y="-4.6" transform="scale(0.9 1)" font-family='"Liberation Sans", sans-serif' font-weight="700" font-size="8.6">0</text></g>
<g transform="translate(324.9 794) rotate(-90)"><text x="0" y="0" transform="scale(0.56 1)" font-family='"Liberation Sans", sans-serif' font-weight="700" font-size="10.4">10</text><text x="7.6" y="-4.6" transform="scale(0.9 1)" font-family='"Liberation Sans", sans-serif' font-weight="700" font-size="8.6">1</text></g>
<g transform="translate(324.9 756.3) rotate(-90)"><text x="0" y="0" transform="scale(0.56 1)" font-family='"Liberation Sans", sans-serif' font-weight="700" font-size="10.4">10</text><text x="7.6" y="-4.6" transform="scale(0.9 1)" font-family='"Liberation Sans", sans-serif' font-weight="700" font-size="8.6">2</text></g>
<g transform="translate(324.9 718.6) rotate(-90)"><text x="0" y="0" transform="scale(0.56 1)" font-family='"Liberation Sans", sans-serif' font-weight="700" font-size="10.4">10</text><text x="7.6" y="-4.6" transform="scale(0.9 1)" font-family='"Liberation Sans", sans-serif' font-weight="700" font-size="8.6">3</text></g>
<g transform="translate(324.9 680.9) rotate(-90)"><text x="0" y="0" transform="scale(0.56 1)" font-family='"Liberation Sans", sans-serif' font-weight="700" font-size="10.4">10</text><text x="7.6" y="-4.6" transform="scale(0.9 1)" font-family='"Liberation Sans", sans-serif' font-weight="700" font-size="8.6">4</text></g>
<text x="496" y="697.7" text-anchor="end" font-family='"Liberation Serif", serif' font-size="16">21.06%</text>
</g>
</svg>
</body></html>
